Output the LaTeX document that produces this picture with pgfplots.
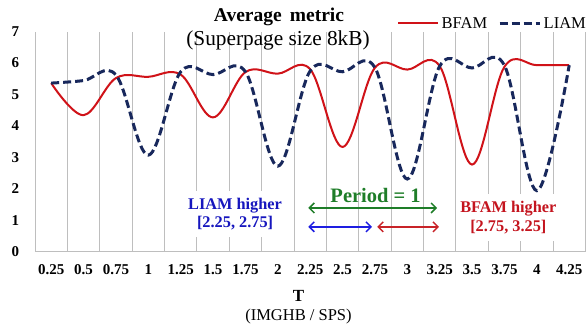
\documentclass[border=0pt]{standalone}
\usepackage{fontspec}
\setmainfont{Liberation Serif}
\usepackage{pgfplots}
\pgfplotsset{compat=1.18}
\usetikzlibrary{arrows.meta}
\definecolor{bfam}{RGB}{208,18,24}
\definecolor{liam}{RGB}{24,40,92}
\definecolor{gridgray}{RGB}{190,190,190}
\definecolor{txtblue}{RGB}{22,22,190}
\definecolor{txtred}{RGB}{196,20,30}
\definecolor{txtgreen}{RGB}{30,125,40}
\definecolor{arrblue}{RGB}{30,30,225}
\definecolor{arrred}{RGB}{200,35,40}

\pgfplotstableread{
x red blue
0 5.36 5.36
1 4.34 5.44
2 5.52 5.62
3 5.56 3.07
4 5.63 5.72
5 4.27 5.63
6 5.71 5.72
7 5.66 2.72
8 5.80 5.75
9 3.33 5.72
10 5.85 5.85
11 5.79 2.31
12 5.90 5.90
13 2.77 5.84
14 5.88 5.92
15 5.93 1.94
16 5.93 5.93
}\datatable

\begin{document}
\begin{tikzpicture}
\begin{axis}[
  at={(35pt,75.3pt)}, anchor=south west,
  scale only axis, width=550.4pt, height=220.2pt,
  xmin=-0.5, xmax=16.5, ymin=0, ymax=7,
  xtick={0,...,16},
  xticklabels={0.25,0.5,0.75,1,1.25,1.5,1.75,2,2.25,2.5,2.75,3,3.25,3.5,3.75,4,4.25},
  minor xtick={-0.5,0.5,...,16.5},
  xminorgrids,
  minor grid style={draw=gridgray, line width=0.9pt},
  ytick={0,...,7},
  yticklabels={0,1,2,3,4,5,6,7},
  /pgf/number format/assume math mode=true,
  axis line style={draw=none},
  tick style={draw=none},
  major tick length=0pt, minor tick length=0pt,
  ticklabel style={font=\bfseries\fontsize{15}{15}\selectfont},
  xticklabel style={anchor=north, inner sep=0pt, yshift=-13pt},
  yticklabel style={anchor=east, inner sep=0pt, xshift=-15.7pt},
  clip=false,
  legend style={draw=none, fill=none, inner sep=0pt, outer sep=0pt,
    at={(0.6580,1.0372)}, anchor=west,
    font=\fontsize{16.5}{16.5}\selectfont,
    nodes={inner sep=0pt},
    /tikz/every odd column/.append style={column sep=2.5pt},
    /tikz/every even column/.append style={column sep=11pt}},
  legend columns=2,
  legend image code/.code={\draw[#1] (0pt,0pt) -- (40pt,0pt);},
]
\draw[gridgray, line width=0.9pt] (rel axis cs:0,0) -- (rel axis cs:1,0);
\addplot[bfam, line width=2pt, smooth, tension=0.6] table[x=x, y=red] {\datatable};
\addlegendentry{BFAM}
\addplot[liam, line width=3pt, smooth, tension=0.6, dash pattern=on 8pt off 4pt] table[x=x, y=blue] {\datatable};
\addlegendentry{LIAM}

\node[fill=white, inner xsep=3pt, inner ysep=7pt, align=center, text=txtblue,
  font=\bfseries\fontsize{16.3}{18}\selectfont] at (axis cs:5.68,1.2) {LIAM higher\\{}[2.25, 2.75]};
\node[fill=white, inner xsep=3pt, inner ysep=7pt, align=center, text=txtred,
  font=\bfseries\fontsize{16.3}{18.7}\selectfont] at (axis cs:14.12,1.09) {BFAM higher\\{}[2.75, 3.25]};
\node[text=txtgreen, font=\bfseries\fontsize{20.5}{20.5}\selectfont] at (axis cs:10.02,1.8) {Period = 1};
\draw[txtgreen, line width=1.5pt, {Straight Barb[length=5pt,width=10pt]}-{Straight Barb[length=5pt,width=10pt]}] (axis cs:7.94,1.39) -- (axis cs:11.92,1.39);
\draw[arrblue, line width=1.5pt, {Straight Barb[length=5pt,width=10pt]}-{Straight Barb[length=5pt,width=10pt]}] (axis cs:7.94,0.79) -- (axis cs:9.91,0.79);
\draw[arrred, line width=1.5pt, {Straight Barb[length=5pt,width=10pt]}-{Straight Barb[length=5pt,width=10pt]}] (axis cs:10.07,0.79) -- (axis cs:11.98,0.79);
\end{axis}
\node[font=\bfseries\fontsize{19.5}{19.5}\selectfont] at (279pt,310pt) {Average\, metric};
\node[font=\fontsize{21.3}{21.3}\selectfont] at (278pt,287pt) {(Superpage size 8kB)};
\node[font=\bfseries\fontsize{17}{17}\selectfont] at (298.5pt,31.3pt) {T};
\node[font=\fontsize{16.5}{16.5}\selectfont] at (298.5pt,10pt) {(IMGHB / SPS)};
\pgfresetboundingbox
\path[use as bounding box] (0,0) rectangle (587pt,327pt);
\end{tikzpicture}
\end{document}
